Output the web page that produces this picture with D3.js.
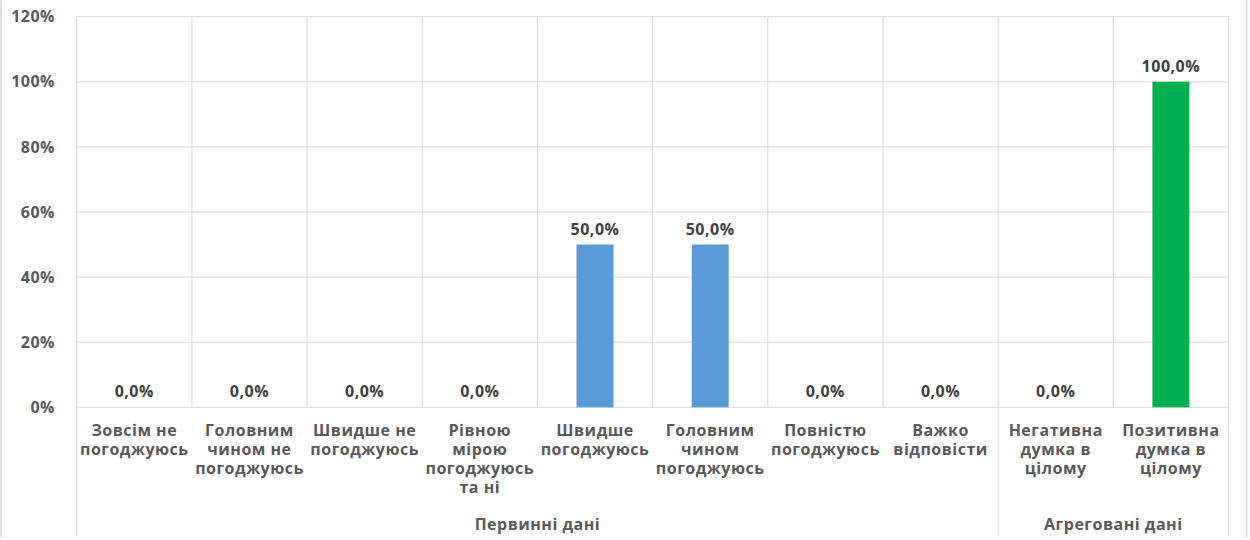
<!DOCTYPE html>
<html><head><meta charset="utf-8">
<script src="https://cdn.jsdelivr.net/npm/d3@7"></script>
<style>
html,body{margin:0;padding:0;background:#fff;}
text{font-family:"Open Sans",sans-serif;font-weight:bold;letter-spacing:0.5px;}
</style></head>
<body>
<svg id="chart" width="1250" height="540"></svg>
<script>
const categories = [
  ["Зовсім не","погоджуюсь"],
  ["Головним","чином не","погоджуюсь"],
  ["Швидше не","погоджуюсь"],
  ["Рівною","мірою","погоджуюсь","та ні"],
  ["Швидше","погоджуюсь"],
  ["Головним","чином","погоджуюсь"],
  ["Повністю","погоджуюсь"],
  ["Важко","відповісти"],
  ["Негативна","думка в","цілому"],
  ["Позитивна","думка в","цілому"]
];
const values = [0, 0, 0, 0, 50, 50, 0, 0, 0, 100];
const groups = ["Первинні дані","Первинні дані","Первинні дані","Первинні дані","Первинні дані","Первинні дані","Первинні дані","Первинні дані","Агреговані дані","Агреговані дані"];
const barColors = ["#5B9BD5","#5B9BD5","#5B9BD5","#5B9BD5","#5B9BD5","#5B9BD5","#5B9BD5","#5B9BD5","#00B050","#00B050"];
const yTicks = [0, 20, 40, 60, 80, 100, 120];

const svg = d3.select("#chart");
const mLeft = 76.7, mRight = 1228.5, mTop = 16.7, mBottom = 407.3, axisBottom = 536;
const idx = d3.range(categories.length);
const x = d3.scaleBand().domain(idx).range([mLeft, mRight]).paddingInner(0).paddingOuter(0);
const y = d3.scaleLinear().domain([0, 120]).range([mBottom, mTop]);
const grid = "#d9d9d9";
const barW = 37;
const fs = 16;

// chart border lines
svg.append("line").attr("x1",1).attr("x2",1).attr("y1",0).attr("y2",537).attr("stroke",grid).attr("stroke-width",1.5);
svg.append("line").attr("x1",1246.5).attr("x2",1246.5).attr("y1",0).attr("y2",537).attr("stroke",grid).attr("stroke-width",1.5);

// horizontal gridlines
svg.append("g").selectAll("line").data(yTicks).join("line")
  .attr("x1", mLeft).attr("x2", mRight)
  .attr("y1", d => y(d)).attr("y2", d => y(d))
  .attr("stroke", grid).attr("stroke-width", 1);

// vertical separators
const bounds = d3.range(categories.length + 1);
const bx = i => i < categories.length ? x(i) : x(categories.length-1) + x.bandwidth();
svg.append("g").selectAll("line").data(bounds).join("line")
  .attr("x1", bx).attr("x2", bx)
  .attr("y1", mTop)
  .attr("y2", i => (i === 0 || i === categories.length || groups[i] !== groups[i-1]) ? axisBottom : mBottom)
  .attr("stroke", grid).attr("stroke-width", 1);

// y axis labels
svg.append("g").selectAll("text").data(yTicks).join("text")
  .attr("x", 55).attr("y", d => y(d)).attr("dy", "0.35em")
  .attr("text-anchor", "end").attr("fill", "#595959").attr("font-size", fs)
  .text(d => d + "%");

// bars
svg.append("g").selectAll("rect").data(idx).join("rect")
  .attr("x", i => x(i) + x.bandwidth()/2 - barW/2)
  .attr("width", barW)
  .attr("y", i => y(values[i]))
  .attr("height", i => mBottom - y(values[i]))
  .attr("fill", i => barColors[i]);

// data labels
svg.append("g").selectAll("text").data(idx).join("text")
  .attr("x", i => x(i) + x.bandwidth()/2)
  .attr("y", i => y(values[i]) - 10)
  .attr("text-anchor", "middle").attr("fill", "#404040").attr("font-size", fs)
  .text(i => values[i].toFixed(1).replace(".", ",") + "%");

// category labels
const cl = svg.append("g").selectAll("text").data(idx).join("text")
  .attr("text-anchor", "middle").attr("fill", "#595959").attr("font-size", fs);
cl.each(function(i){
  const t = d3.select(this);
  categories[i].forEach((line, k) => {
    t.append("tspan").attr("x", x(i) + x.bandwidth()/2).attr("y", 436 + k*19).text(line);
  });
});

// group labels
const groupNames = Array.from(new Set(groups));
svg.append("g").selectAll("text").data(groupNames).join("text")
  .attr("x", g => {
    const ids = idx.filter(i => groups[i] === g);
    return (x(ids[0]) + x(ids[ids.length-1]) + x.bandwidth())/2;
  })
  .attr("y", 530)
  .attr("text-anchor", "middle").attr("fill", "#595959").attr("font-size", fs)
  .text(g => g);
</script>
</body></html>
